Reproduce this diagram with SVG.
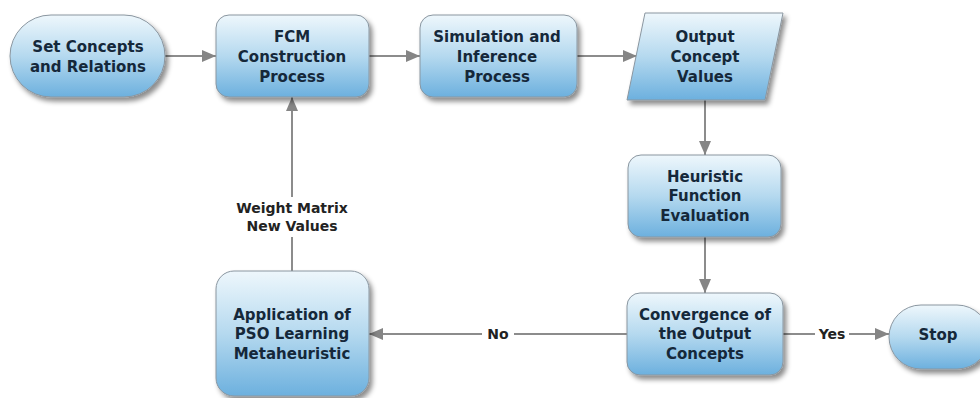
<svg xmlns="http://www.w3.org/2000/svg" width="980" height="398" viewBox="0 0 980 398">
  <defs>
    <linearGradient id="fill" x1="0" y1="0" x2="0" y2="1">
      <stop offset="0" stop-color="#eef7fc"/>
      <stop offset="0.5" stop-color="#b5d9ef"/>
      <stop offset="1" stop-color="#6cb0de"/>
    </linearGradient>
    <filter id="shadow" x="-20%" y="-20%" width="140%" height="150%">
      <feDropShadow dx="3" dy="4" stdDeviation="2.5" flood-color="#000" flood-opacity="0.45"/>
    </filter>
    <marker id="arrow" viewBox="0 0 14 12" refX="14" refY="6" markerWidth="14" markerHeight="12" markerUnits="userSpaceOnUse" orient="auto">
      <path d="M0,0 L14,6 L0,12 Z" fill="#858585"/>
    </marker>
  </defs>
  <style>
    .shape { fill: url(#fill); stroke: #8a96a0; stroke-width: 1; filter: url(#shadow); }
    .label { font-family: "DejaVu Sans", Verdana, sans-serif; font-weight: bold; font-size: 15px; fill: #15283a; text-anchor: middle; }
    .edge { fill: none; stroke: #8c8c8c; stroke-width: 2; }
    .edge-label { font-family: "DejaVu Sans", Verdana, sans-serif; font-weight: bold; font-size: 14px; fill: #222; text-anchor: middle; }
  </style>
  <rect width="980" height="398" fill="#fff"/>

  <!-- connectors -->
  <g id="connectors">
    <line class="edge" x1="165" y1="56" x2="216" y2="56" marker-end="url(#arrow)"/>
    <line class="edge" x1="369" y1="56" x2="420" y2="56" marker-end="url(#arrow)"/>
    <line class="edge" x1="577" y1="56" x2="637" y2="56" marker-end="url(#arrow)"/>
    <line class="edge" x1="705" y1="100" x2="705" y2="155" marker-end="url(#arrow)"/>
    <line class="edge" x1="705" y1="237" x2="705" y2="293" marker-end="url(#arrow)"/>
    <line class="edge" x1="783" y1="334" x2="889" y2="334" marker-end="url(#arrow)"/>
    <line class="edge" x1="627" y1="334" x2="369" y2="334" marker-end="url(#arrow)"/>
    <line class="edge" x1="292" y1="271" x2="292" y2="97" marker-end="url(#arrow)"/>
    <rect x="815" y="324" width="34" height="20" fill="#fff"/>
    <text class="edge-label" x="832" y="339">Yes</text>
    <rect x="482" y="324" width="32" height="20" fill="#fff"/>
    <text class="edge-label" x="498" y="339">No</text>
    <rect x="230" y="197" width="124" height="40" fill="#fff"/>
    <text class="edge-label" x="292" y="213">Weight Matrix</text>
    <text class="edge-label" x="292" y="231">New Values</text>
  </g>

  <g id="set-concepts">
    <rect class="shape" x="10" y="15" width="155" height="82" rx="41" ry="41"/>
    <text class="label" x="88" y="52">Set Concepts</text>
    <text class="label" x="88" y="72">and Relations</text>
  </g>

  <g id="fcm-construction">
    <rect class="shape" x="216" y="15" width="153" height="82" rx="13" ry="13"/>
    <text class="label" x="292" y="42">FCM</text>
    <text class="label" x="292" y="62">Construction</text>
    <text class="label" x="292" y="82">Process</text>
  </g>

  <g id="simulation">
    <rect class="shape" x="420" y="15" width="157" height="82" rx="13" ry="13"/>
    <text class="label" x="497" y="42">Simulation and</text>
    <text class="label" x="497" y="62">Inference</text>
    <text class="label" x="497" y="82">Process</text>
  </g>

  <g id="output-values">
    <polygon class="shape" points="645,13 783,13 765,100 627,100"/>
    <text class="label" x="705" y="42">Output</text>
    <text class="label" x="705" y="62">Concept</text>
    <text class="label" x="705" y="82">Values</text>
  </g>

  <g id="heuristic">
    <rect class="shape" x="628" y="155" width="153" height="82" rx="13" ry="13"/>
    <text class="label" x="705" y="182">Heuristic</text>
    <text class="label" x="705" y="201">Function</text>
    <text class="label" x="705" y="221">Evaluation</text>
  </g>

  <g id="convergence">
    <rect class="shape" x="627" y="293" width="156" height="82" rx="13" ry="13"/>
    <text class="label" x="705" y="320">Convergence of</text>
    <text class="label" x="705" y="339">the Output</text>
    <text class="label" x="705" y="359">Concepts</text>
  </g>

  <g id="stop">
    <rect class="shape" x="889" y="305" width="100" height="64" rx="32" ry="32"/>
    <text class="label" x="938" y="340">Stop</text>
  </g>

  <g id="pso">
    <rect class="shape" x="216" y="271" width="153" height="125" rx="18" ry="18"/>
    <text class="label" x="292" y="320">Application of</text>
    <text class="label" x="292" y="339">PSO Learning</text>
    <text class="label" x="292" y="359">Metaheuristic</text>
  </g>
</svg>
